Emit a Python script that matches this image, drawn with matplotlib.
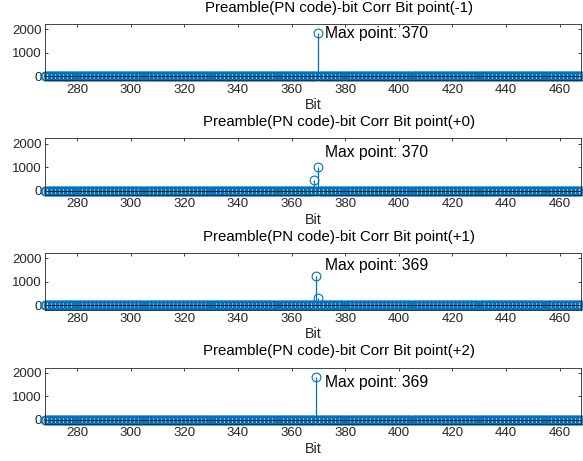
import numpy as np
import matplotlib
matplotlib.use('Agg')
import matplotlib.pyplot as plt

plt.rcParams['font.family'] = ['Liberation Sans', 'DejaVu Sans']

# sample positions (two per bit) shown on every panel
bits = np.arange(268, 468.5, 0.5)

# correlation peaks per offset; everything else sits at ~0
offsets = ['-1', '+0', '+1', '+2']
peak_bits = [[370], [368.5, 370], [369, 370], [369]]
peak_vals = [[1830], [460, 990], [1245, 310], [1815]]
max_point = [370, 370, 369, 369]
label_y = [1825, 1645, 1675, 1570]

stem_color = '#0072BD'
axis_gray = '#262626'

W, H = 583, 461
fig = plt.figure(figsize=(W / 100, H / 100), dpi=100)

for i in range(4):
    top = 24 + i * 114.5
    h = 56.5
    ax = fig.add_axes([45 / W, 1 - (top + h) / H, 536 / W, h / H])

    corr = np.zeros(len(bits))
    for b, v in zip(peak_bits[i], peak_vals[i]):
        corr[bits == b] = v

    markerline, stemlines, baseline = ax.stem(bits, corr, linefmt='-', markerfmt='o', basefmt='-')
    markerline.set_markerfacecolor('none')
    markerline.set_markeredgecolor(stem_color)
    markerline.set_markersize(6.3)
    markerline.set_markeredgewidth(0.8)
    markerline.set_clip_on(False)
    stemlines.set_color(stem_color)
    stemlines.set_linewidth(0.9)
    baseline.set_color(axis_gray)
    baseline.set_linewidth(0.7)

    ax.set_xlim(268, 468)
    ax.set_ylim(-190, 2230)
    ax.set_xticks(np.arange(280, 461, 20))
    ax.set_yticks([0, 1000, 2000])
    ax.tick_params(direction='in', length=2.5, width=0.6, top=True, right=True,
                   labelsize=9.5, colors=axis_gray, pad=2.5)
    for s in ax.spines.values():
        s.set_color(axis_gray)
        s.set_linewidth(0.6)

    ax.text(0.548, 1.285, 'Preamble(PN code)-bit Corr Bit point(' + offsets[i] + ')',
            transform=ax.transAxes, ha='center', va='center', fontsize=10.8, color='black')
    ax.set_xlabel('Bit', fontsize=10.3, color=axis_gray, labelpad=1.5)
    ax.text(372.4, label_y[i], 'Max point: ' + str(max_point[i]),
            ha='left', va='center', fontsize=11.3, color='black')

fig.savefig('out.png', dpi=100)
